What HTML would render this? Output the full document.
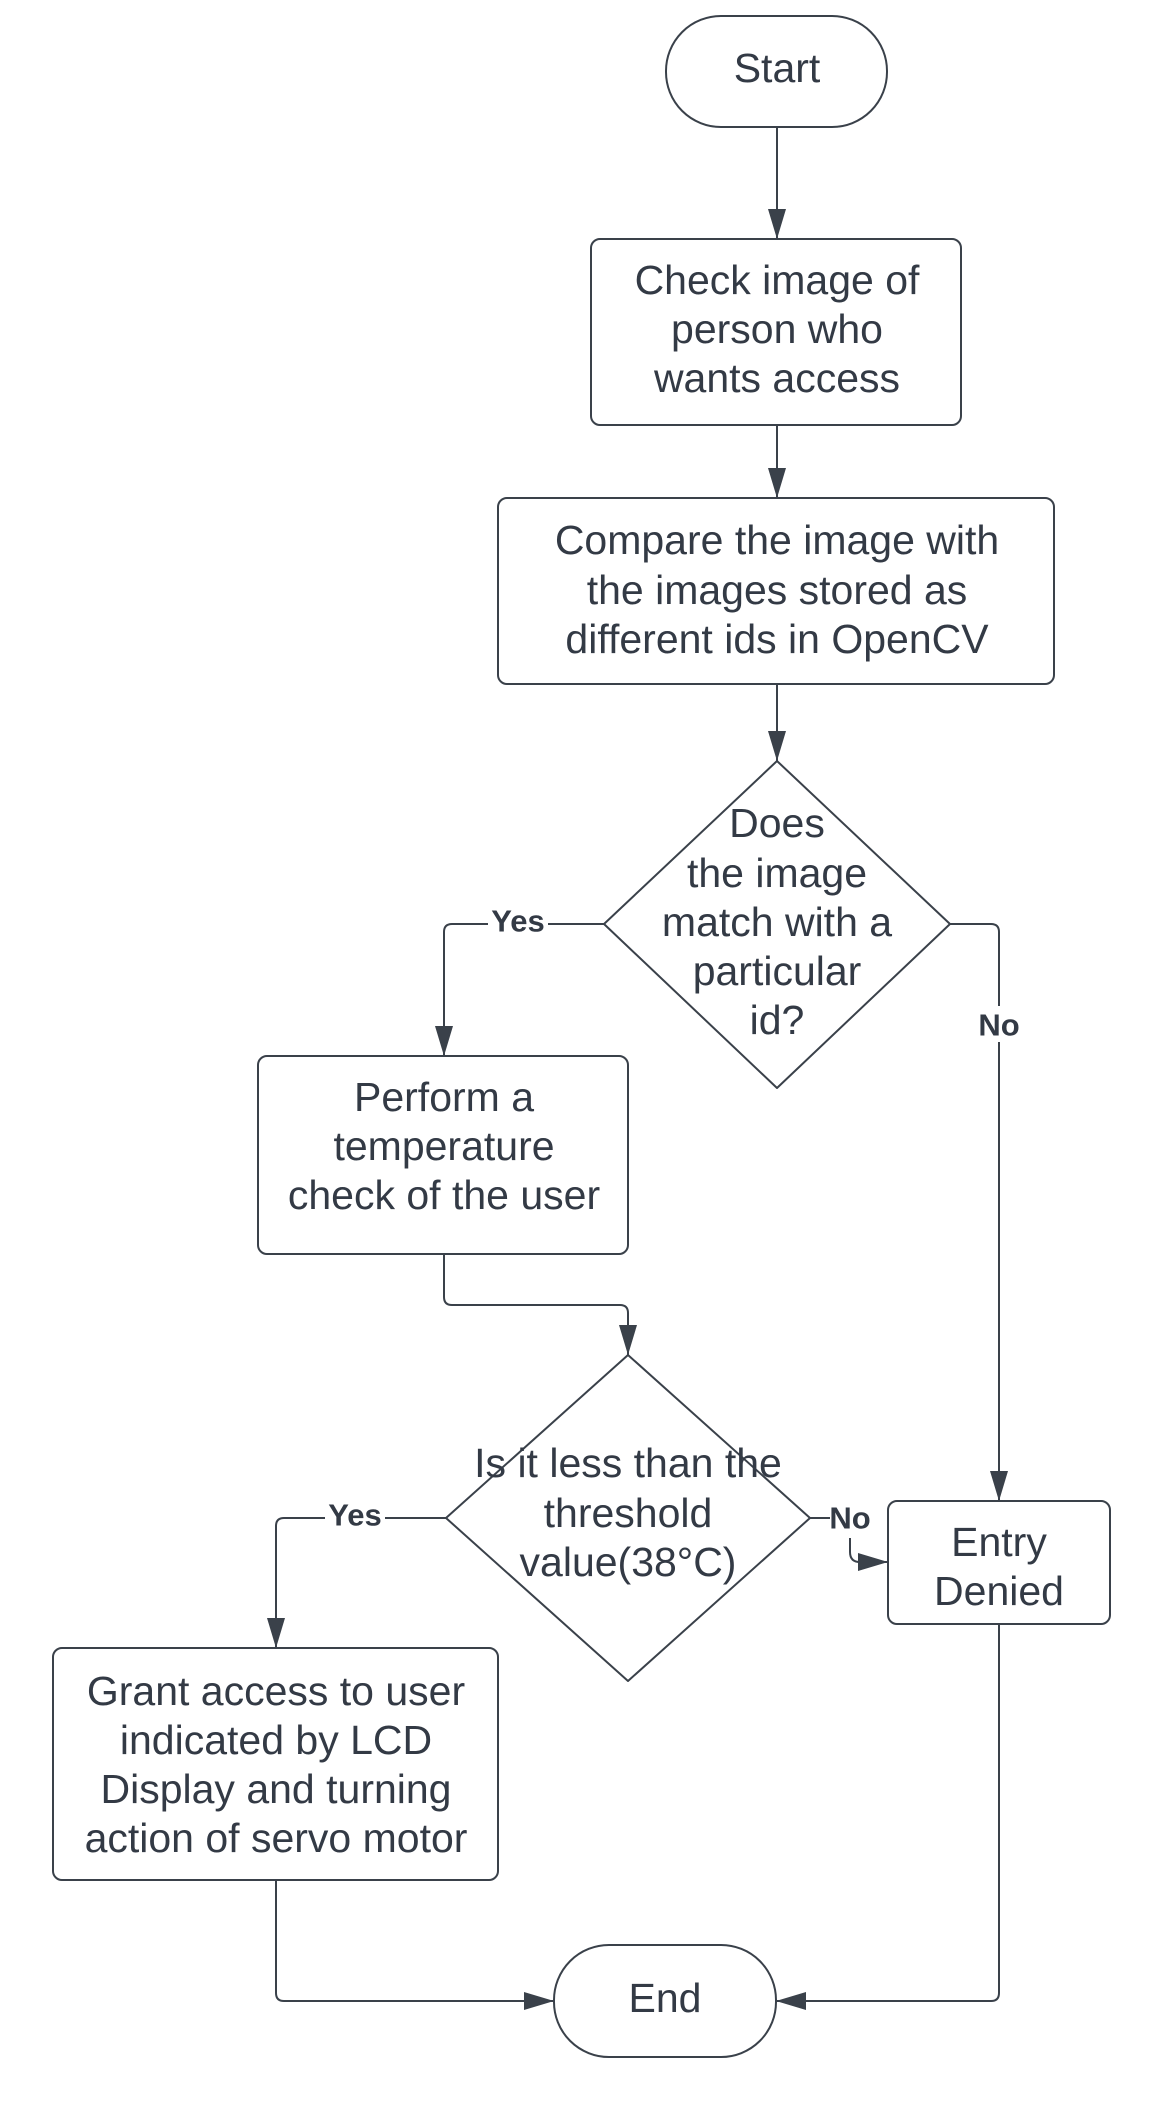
<!DOCTYPE html>
<html><head><meta charset="utf-8"><style>
html,body{margin:0;padding:0;background:#fff}
svg{display:block}
text{font-family:"Liberation Sans",sans-serif;fill:#333a45}
.t{font-size:41px;text-anchor:middle;dominant-baseline:central}
.l{font-size:31px;font-weight:bold;text-anchor:middle;dominant-baseline:central}
.s{fill:#fff;stroke:#3a414a;stroke-width:2}
.c{fill:none;stroke:#3a414a;stroke-width:2}
</style></head><body>
<svg width="1169" height="2105" viewBox="0 0 1169 2105" xmlns="http://www.w3.org/2000/svg">
<defs>
<marker id="b" markerWidth="30" markerHeight="20" refX="30" refY="10" orient="auto" markerUnits="userSpaceOnUse"><path d="M0,1 L30,10 L0,19 z" fill="#3a414a"/></marker></defs>

<path class="c" d="M777,127 V239" marker-end="url(#b)"/>
<path class="c" d="M777,425 V498" marker-end="url(#b)"/>
<path class="c" d="M777,684 V761" marker-end="url(#b)"/>
<path class="c" d="M604,924 H452 Q444,924 444,932 V1056" marker-end="url(#b)"/>
<path class="c" d="M950,924 H991 Q999,924 999,932 V1501" marker-end="url(#b)"/>
<path class="c" d="M444,1254 V1297 Q444,1305 452,1305 H620 Q628,1305 628,1313 V1355" marker-end="url(#b)"/>
<path class="c" d="M446,1518 H284 Q276,1518 276,1526 V1648" marker-end="url(#b)"/>
<path class="c" d="M810,1518 H830"/>
<path class="c" d="M850,1538 V1552 Q850,1562 860,1562 H888" marker-end="url(#b)"/>
<path class="c" d="M276,1880 V1993 Q276,2001 284,2001 H554" marker-end="url(#b)"/>
<path class="c" d="M999,1624 V1993 Q999,2001 991,2001 H776" marker-end="url(#b)"/>

<rect class="s" x="666" y="16" width="221" height="111" rx="55"/>
<rect class="s" x="591" y="239" width="370" height="186" rx="9"/>
<rect class="s" x="498" y="498" width="556" height="186" rx="9"/>
<path class="s" d="M777,761 L950,924 L777,1088 L604,924 Z" stroke-linejoin="round"/>
<rect class="s" x="258" y="1056" width="370" height="198" rx="9"/>
<path class="s" d="M628,1355 L810,1518 L628,1681 L446,1518 Z" stroke-linejoin="round"/>
<rect class="s" x="888" y="1501" width="222" height="123" rx="9"/>
<rect class="s" x="53" y="1648" width="445" height="232" rx="9"/>
<rect class="s" x="554" y="1945" width="222" height="112" rx="55"/>

<text class="t" x="777" y="68">Start</text>
<text class="t" x="777" y="280">Check image of</text>
<text class="t" x="777" y="329">person who</text>
<text class="t" x="777" y="378">wants access</text>
<text class="t" x="777" y="540">Compare the image with</text>
<text class="t" x="777" y="590">the images stored as</text>
<text class="t" x="777" y="639">different ids in OpenCV</text>
<text class="t" x="777" y="823">Does</text>
<text class="t" x="777" y="873">the image</text>
<text class="t" x="777" y="922">match with a</text>
<text class="t" x="777" y="971">particular</text>
<text class="t" x="777" y="1020">id?</text>
<rect x="488" y="903" width="60" height="36" fill="#fff"/>
<text class="l" x="518" y="921">Yes</text>
<rect x="973" y="1006" width="52" height="36" fill="#fff"/>
<text class="l" x="999" y="1025">No</text>
<text class="t" x="444" y="1097">Perform a</text>
<text class="t" x="444" y="1146">temperature</text>
<text class="t" x="444" y="1195">check of the user</text>
<text class="t" x="628" y="1463">Is it less than the</text>
<text class="t" x="628" y="1513">threshold</text>
<text class="t" x="628" y="1562">value(38°C)</text>
<rect x="325" y="1497" width="60" height="36" fill="#fff"/>
<text class="l" x="355" y="1515">Yes</text>
<text class="l" x="850" y="1518">No</text>
<text class="t" x="999" y="1542">Entry</text>
<text class="t" x="999" y="1591">Denied</text>
<text class="t" x="276" y="1691">Grant access to user</text>
<text class="t" x="276" y="1740">indicated by LCD</text>
<text class="t" x="276" y="1789">Display and turning</text>
<text class="t" x="276" y="1838">action of servo motor</text>
<text class="t" x="665" y="1998">End</text>
</svg>
</body></html>
